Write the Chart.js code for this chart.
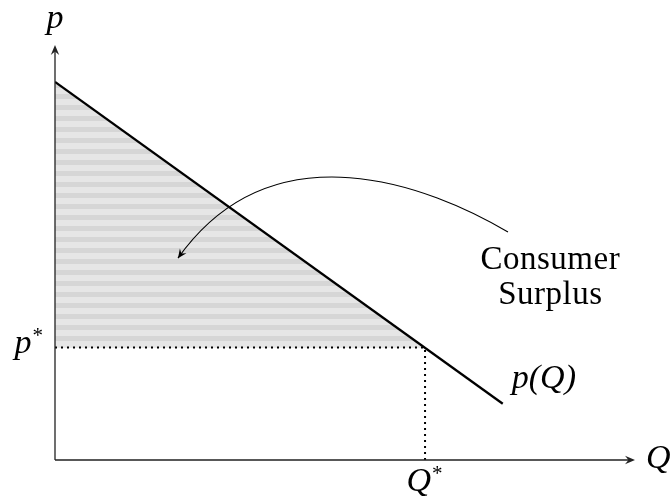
<!DOCTYPE html>
<html lang="en">
<head>
    <meta charset="UTF-8">
    <script src="https://cdn.jsdelivr.net/npm/chart.js"></script>
    <title>consumer surplus</title>
    <style>
        html, body{ margin:0; padding:0; background:#fff; }
        #chart_area{ width:670px; height:500px; }
    </style>
</head>
<body>
    <div id="chart_area">
        <canvas id="mychart" width="670" height="500"></canvas>
    </div>
    <script>
        // demand curve p(Q): two end points
        let demandQ = [0, 7.72];
        let demandP = [6.52, 0.97];
        // equilibrium
        let eqQ = 6.38;
        let eqP = 1.94;
        // curved pointer (cubic bezier: start, ctrl1, ctrl2, end)
        let arrowQ = [7.81, 6.48, 3.76, 2.12];
        let arrowP = [3.93, 4.72, 5.79, 3.48];
        // text
        let axisLabels = ["Q", "p"];
        let eqLabels = ["Q", "p"];
        let curveLabel = "p(Q)";
        let noteLines = ["Consumer", "Surplus"];
        let notePos = [8.54, 3.45]; // centre of the note, in data units

        let xMax = 10, yMax = 7.155;
        let mathFont = 'italic 34px "Liberation Serif"';

        // horizontal stripes for the shaded area
        function stripes(){
            let c = document.createElement("canvas");
            c.width = 4; c.height = 11;
            let g = c.getContext("2d");
            g.fillStyle = "#e6e6e6"; g.fillRect(0, 0, 4, 6);
            g.fillStyle = "#d6d6d6"; g.fillRect(0, 6, 4, 5);
            return g.createPattern(c, "repeat");
        }

        function arrowHead(ctx, x, y, ang, len, half){
            ctx.save();
            ctx.translate(x, y);
            ctx.rotate(ang);
            ctx.beginPath();
            ctx.moveTo(0, 0);
            ctx.lineTo(-len, -half);
            ctx.lineTo(-len * 0.65, 0);
            ctx.lineTo(-len, half);
            ctx.closePath();
            ctx.fill();
            ctx.restore();
        }

        function starLabel(ctx, base, x, y, align){
            ctx.font = mathFont;
            let w = ctx.measureText(base).width;
            ctx.font = '21px "Liberation Serif"';
            let ws = ctx.measureText("*").width;
            let left = align == "right" ? x - w - ws : x - (w + ws) / 2;
            ctx.textAlign = "left";
            ctx.font = mathFont;
            ctx.fillText(base, left, y);
            ctx.font = '21px "Liberation Serif"';
            ctx.fillText("*", left + w + 1, y - 11);
        }

        let decor = {
            id: "decor",
            afterDraw(chart){
                let ctx = chart.ctx;
                let xs = chart.scales.x, ys = chart.scales.y;
                let X = v => xs.getPixelForValue(v), Y = v => ys.getPixelForValue(v);
                let x0 = X(0), y0 = Y(0), x1 = X(xMax), y1 = Y(yMax);
                ctx.save();
                // axes
                ctx.strokeStyle = "#222"; ctx.fillStyle = "#222"; ctx.lineWidth = 1.3;
                ctx.beginPath();
                ctx.moveTo(x0, y0); ctx.lineTo(x1 - 3, y0);
                ctx.moveTo(x0, y0); ctx.lineTo(x0, y1 + 3);
                ctx.stroke();
                arrowHead(ctx, x1, y0, 0, 10, 4.2);
                arrowHead(ctx, x0, y1, -Math.PI / 2, 10, 4.2);

                // curved pointer
                ctx.strokeStyle = "#000"; ctx.fillStyle = "#000"; ctx.lineWidth = 1.1;
                let px = arrowQ.map(X), py = arrowP.map(Y);
                ctx.beginPath();
                ctx.moveTo(px[0], py[0]);
                ctx.bezierCurveTo(px[1], py[1], px[2], py[2], px[3], py[3]);
                ctx.stroke();
                arrowHead(ctx, px[3], py[3], Math.atan2(py[3] - py[2], px[3] - px[2]), 9, 4);

                // labels
                ctx.fillStyle = "#000";
                ctx.textBaseline = "alphabetic";
                ctx.font = mathFont;
                ctx.textAlign = "left";
                ctx.fillText(axisLabels[0], x1 + 11, y0 + 8);
                ctx.textAlign = "center";
                ctx.fillText(axisLabels[1], x0, y1 - 17);
                ctx.textAlign = "left";
                ctx.fillText(curveLabel, X(demandQ[1]) + 9, Y(demandP[1]) - 16);
                starLabel(ctx, eqLabels[0], X(eqQ) - 1, y0 + 31, "center");
                starLabel(ctx, eqLabels[1], x0 - 13, Y(eqP) + 6, "right");

                ctx.font = '33px "Liberation Serif"';
                ctx.textAlign = "center";
                if("letterSpacing" in ctx) ctx.letterSpacing = "0.5px";
                ctx.fillText(noteLines[0], X(notePos[0]), Y(notePos[1]) + 9);
                ctx.fillText(noteLines[1], X(notePos[0]), Y(notePos[1]) + 44);
                ctx.restore();
            }
        };

        let ctx = document.querySelector("#mychart");
        let dotted = {
            showLine: true,
            borderColor: "#000",
            borderWidth: 2,
            borderDash: [2, 4],
            pointRadius: 0,
            order: 3,
        };
        let config = {
            type: "scatter",
            data: {
                datasets: [
                    {
                        // shaded consumer surplus
                        data: [{x: demandQ[0], y: demandP[0]}, {x: eqQ, y: eqP}],
                        showLine: true,
                        borderWidth: 0,
                        pointRadius: 0,
                        backgroundColor: stripes(),
                        fill: {value: eqP},
                        order: 5,
                    },
                    Object.assign({data: [{x: 0, y: eqP}, {x: eqQ, y: eqP}]}, dotted),
                    Object.assign({data: [{x: eqQ, y: 0}, {x: eqQ, y: eqP}]}, dotted),
                    {
                        // demand p(Q)
                        data: demandQ.map((q, i) => ({x: q, y: demandP[i]})),
                        showLine: true,
                        borderColor: "#000",
                        borderWidth: 2.3,
                        pointRadius: 0,
                        order: 1,
                    },
                ]
            },
            options: {
                responsive: false,
                animation: false,
                events: [],
                layout: { padding: {left: 55, right: 35, top: 45, bottom: 40} },
                scales: {
                    x: { type: "linear", min: 0, max: xMax, display: false },
                    y: { type: "linear", min: 0, max: yMax, display: false },
                },
                plugins: {
                    legend: { display: false },
                    tooltip: { enabled: false },
                    title: { display: false },
                }
            },
            plugins: [decor]
        };
        let chart = new Chart(ctx, config);
    </script>
</body>
</html>
